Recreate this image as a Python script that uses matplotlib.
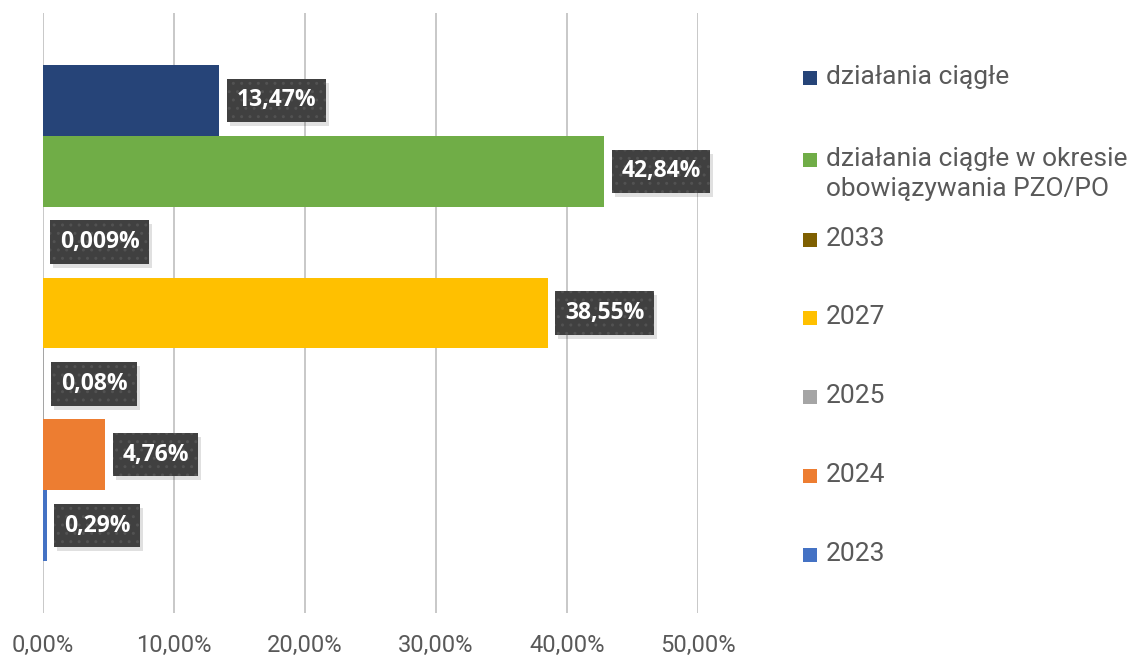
import matplotlib.pyplot as plt
from matplotlib.patches import Rectangle
from matplotlib.transforms import IdentityTransform

# series from top to bottom, as in the legend
names = ['działania ciągłe',
         'działania ciągłe w okresie\nobowiązywania PZO/PO',
         '2033', '2027', '2025', '2024', '2023']
values = [13.47, 42.84, 0.009, 38.55, 0.08, 4.76, 0.29]
colors = ['#264478', '#70AD47', '#7F6000', '#FFC000', '#A5A5A5', '#ED7D31', '#4472C4']
xticks = [0, 10, 20, 30, 40, 50]

W, H = 1133, 655
fig = plt.figure(figsize=(W / 100, H / 100), dpi=100)
ax = fig.add_axes([43 / W, (H - 613) / H, (698 - 43) / W, 600 / H])

n = len(values)
ypos = [n - 1 - i for i in range(n)]
ax.barh(ypos, values, height=1.0, color=colors, zorder=3)

ax.set_xlim(0, 50)
ax.set_ylim(-0.5 - 0.73, n - 0.5 + 0.73)
ax.set_xticks(xticks)
ax.set_xticklabels([f'{t:.2f}%'.replace('.', ',') for t in xticks],
                   family='Roboto', fontsize=17, color='#595959')
ax.tick_params(axis='x', length=0, pad=15)
ax.set_yticks([])
ax.grid(axis='x', color='#C4C4C4', linewidth=1.3, zorder=0)
for s in ax.spines.values():
    s.set_visible(False)


def fmt(v):
    d = 3 if v < 0.01 else 2
    return f'{v:.{d}f}%'.replace('.', ',')


labels = []
for y, v in zip(ypos, values):
    t = ax.annotate(fmt(v), (v, y), xytext=(17, 0), textcoords='offset pixels',
                    ha='left', va='center', fontsize=16.5, fontweight='bold',
                    family='Open Sans', color='white', zorder=5,
                    bbox=dict(boxstyle='square,pad=0.42', fc='#404040', ec='#525252',
                              lw=0, hatch='..'))
    labels.append(t)

# legend drawn by hand: one slot per series
leg_y = [78, 160, 240, 318, 397, 476, 555]
for name, c, yy in zip(names, colors, leg_y):
    fig.patches.append(Rectangle((803 / W, (H - yy - 7) / H), 14 / W, 14 / H,
                                 transform=fig.transFigure, fc=c, ec='none'))
    lines = name.split('\n')
    yc = yy - 1 + (len(lines) - 1) * 15
    fig.text(826 / W, (H - yc) / H, name, ha='left', va='center', family='Roboto',
             fontsize=19, color='#595959', linespacing=1.27)

# soft shadows behind the label boxes, placed once the boxes are laid out
fig.canvas.draw()
for t in labels:
    bb = t.get_bbox_patch().get_window_extent()
    ax.add_patch(Rectangle((bb.x0 + 3, bb.y0 - 4), bb.width, bb.height,
                           transform=IdentityTransform(), fc='black', alpha=0.12,
                           ec='none', zorder=4, clip_on=False))

fig.savefig('out.png', dpi=100)
